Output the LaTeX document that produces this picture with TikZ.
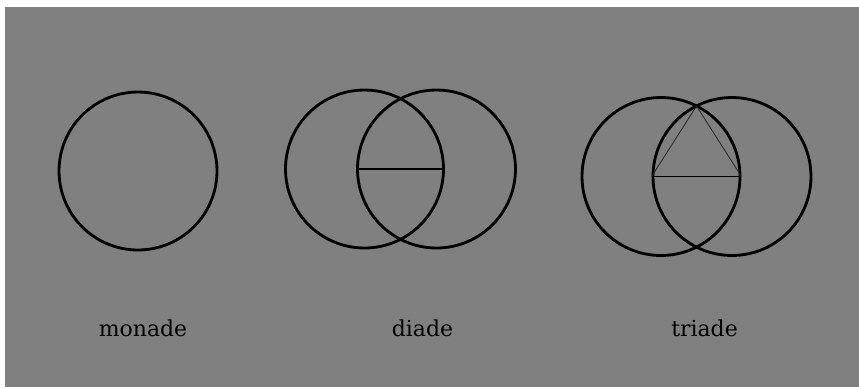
\documentclass[tikz,border=0pt]{standalone}
\usepackage{fontspec}
\setmainfont{DejaVu Serif}
\usetikzlibrary{positioning}
\definecolor{panelGray}{HTML}{808080}
\definecolor{inkDark}{HTML}{000000}

\begin{document}
\begin{tikzpicture}[x=0.02cm, y=-0.02cm,
    ring/.style={circle, draw=inkDark, line width=1.6pt, minimum size=3.16cm,
                 inner sep=0pt},
    chord/.style={draw=inkDark, line width=0.6pt},
    tri/.style={draw=inkDark!85, line width=0.45pt},
    label/.style={font=\fontsize{12.5}{15}\selectfont, text=inkDark, inner sep=0pt},
  ]
    \useasboundingbox (0,0) rectangle (859,387);
    \fill[panelGray] (5,7) rectangle (859,387);

    % ─── MONADE ───
    \node[ring] (mono) at (138,171) {};
    \node[label] (monoLbl) at (143,328) {monade};

    % ─── DIADE ───
    \node[ring] (diL) at (364.5,169) {};
    \node[ring] (diR) at (436.5,169) {};
    \draw[chord] (diR.west) -- (diL.east);
    \node[label] (diLbl) at (422.5,328) {diade};

    % ─── TRIADE ───
    \node[ring] (trL) at (661,176.5) {};
    \node[ring] (trR) at (732,176.5) {};
    \coordinate (trTop) at (696.5,106);
    \draw[chord] (trR.west) -- (trL.east);
    \draw[tri] (trR.west) -- (trTop) -- (trL.east);
    \node[label] (trLbl) at (704.5,328) {triade};
  \end{tikzpicture}
\end{document}
